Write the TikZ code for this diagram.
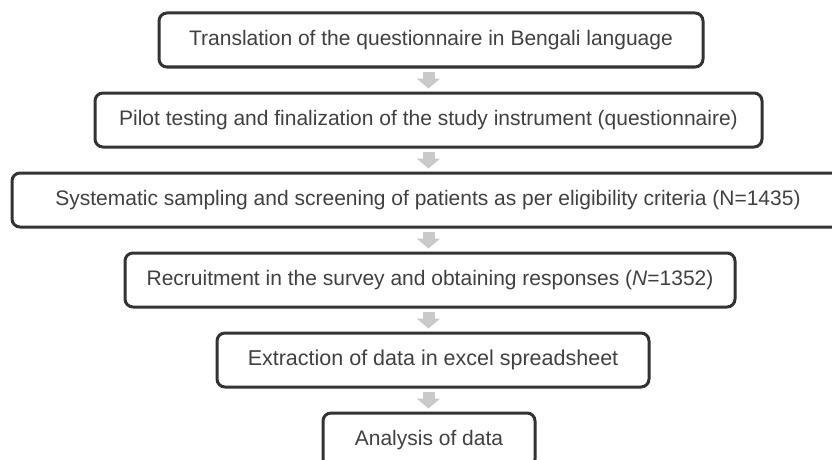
\documentclass[tikz,border=0pt]{standalone}
\usepackage{fontspec}
\setmainfont{Liberation Sans}
\usepackage{tikz}
\usetikzlibrary{arrows.meta}
\definecolor{boxline}{HTML}{333333}
\definecolor{boxtext}{HTML}{404040}
\definecolor{flowgrey}{HTML}{C8C9CB}
\begin{document}
\begin{tikzpicture}[x=1pt, y=-1pt,
		stage/.style={draw=boxline, line width=3pt, rounded corners=8pt, text=boxtext, font=\fontsize{21}{25}\selectfont, minimum height=54pt, inner sep=0pt},
		flow/.style={draw=flowgrey, line width=12pt, -{Triangle[width=23pt, length=10pt]}, shorten <=3pt, shorten >=3pt}]
			\useasboundingbox (0, 0) rectangle (832, 460);
			\clip (0, 0) rectangle (832, 460);
			\coordinate (axis) at (428.5, 0);
			\node[stage, minimum width=544pt] (transl) at (431, 40) {Translation of the questionnaire in Bengali language};
			\node[stage, minimum width=667pt] (pilot) at (428.5, 120) {Pilot testing and finalization of the study instrument (questionnaire)};
			\node[stage, minimum width=832pt] (sampling) at (428, 200) {Systematic sampling and screening of patients as per eligibility criteria (N=1435)};
			\node[stage, minimum width=610pt] (recruit) at (430, 280) {Recruitment in the survey and obtaining responses (\textit{N}=1352)};
			\node[stage, minimum width=432pt, font=\fontsize{21.5}{25}\selectfont] (extract) at (433, 360) {Extraction of data in excel spreadsheet};
			\node[stage, minimum width=212pt] (analysis) at (429, 440) {Analysis of data};
			\draw[flow] (transl.south -| axis) -- (pilot.north -| axis);
			\draw[flow] (pilot.south -| axis) -- (sampling.north -| axis);
			\draw[flow] (sampling.south -| axis) -- (recruit.north -| axis);
			\draw[flow] (recruit.south -| axis) -- (extract.north -| axis);
			\draw[flow] (extract.south -| axis) -- (analysis.north -| axis);
		\end{tikzpicture}
\end{document}
